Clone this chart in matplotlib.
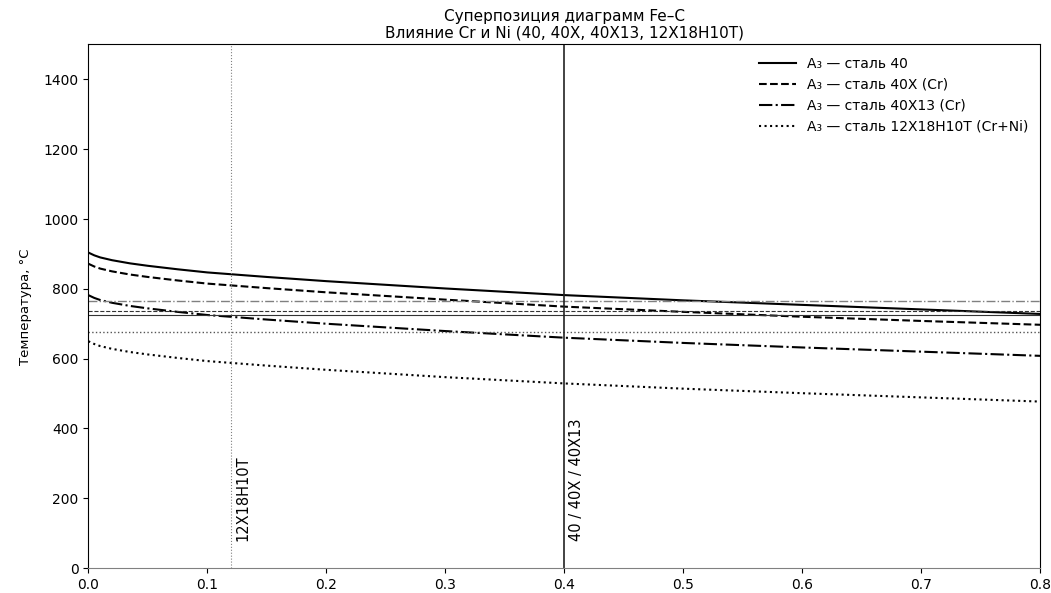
import numpy as np
import matplotlib
matplotlib.use("Agg")
from matplotlib import pyplot as plt

# содержание углерода, %
carbon = [0.0, 0.005, 0.01, 0.02, 0.035, 0.05, 0.075, 0.1, 0.15,
          0.2, 0.3, 0.4, 0.5, 0.6, 0.7, 0.8]

# линии A3 для каждой стали, °C
a3_40 = [904, 896, 890, 882, 873, 866, 856, 847, 834,
         822, 801, 782, 767, 754, 741, 728]
a3_40x = [872, 864, 858, 850, 841, 834, 824, 815, 802,
          790, 769, 749, 734, 720, 708, 697]
a3_40x13 = [782, 774, 768, 760, 751, 744, 734, 725, 712,
            700, 679, 660, 645, 632, 620, 608]
a3_12x18 = [650, 642, 636, 628, 619, 612, 602, 593, 580,
            568, 547, 529, 514, 501, 489, 477]

# линии A1 (горизонтальные), °C
a1_levels = [766, 737, 725, 675]

# составы сталей по углероду
c_12x18 = 0.12
c_40 = 0.4

labels = ["A₃ — сталь 40", "A₃ — сталь 40X (Cr)",
          "A₃ — сталь 40X13 (Cr)", "A₃ — сталь 12X18H10T (Cr+Ni)"]

fig, ax = plt.subplots(figsize=(10.51, 5.93), dpi=100)
fig.subplots_adjust(left=0.084, right=0.99, top=0.925, bottom=0.042)

ax.plot(carbon, a3_40, color="black", lw=1.5, ls="-", label=labels[0])
ax.plot(carbon, a3_40x, color="black", lw=1.5, ls="--", label=labels[1])
ax.plot(carbon, a3_40x13, color="black", lw=1.5, ls="-.", label=labels[2])
ax.plot(carbon, a3_12x18, color="black", lw=1.5, ls=":", label=labels[3])

# A1
ax.axhline(a1_levels[0], color="gray", lw=1, ls="-.")
ax.axhline(a1_levels[1], color="#333333", lw=0.8, ls="--")
ax.axhline(a1_levels[2], color="#333333", lw=0.8, ls="-")
ax.axhline(a1_levels[3], color="#555555", lw=1, ls=":")

# вертикали по составу
ax.axvline(c_12x18, color="gray", lw=0.8, ls=":")
ax.axvline(c_40, color="#222222", lw=1.2, ls="-")
ax.text(c_12x18 + 0.004, 78, "12X18H10T", rotation=90, va="bottom",
        ha="left", fontsize=10.5)
ax.text(c_40 + 0.004, 78, "40 / 40X / 40X13", rotation=90, va="bottom",
        ha="left", fontsize=10.5)

ax.set_xlim(0, 0.8)
ax.set_ylim(0, 1500)
ax.set_yticks(range(0, 1500, 200))
ax.tick_params(labelsize=10)
ax.spines["bottom"].set_color("gray")
ax.set_ylabel("Температура, °C", fontsize=9.5, labelpad=8)
ax.set_title("Суперпозиция диаграмм Fe–C\nВлияние Cr и Ni (40, 40X, 40X13, 12X18H10T)",
             fontsize=11, linespacing=1.1, pad=5)

ax.legend(loc="upper right", frameon=False, fontsize=10, handlelength=2.6)

fig.savefig("out.png", dpi=100)
